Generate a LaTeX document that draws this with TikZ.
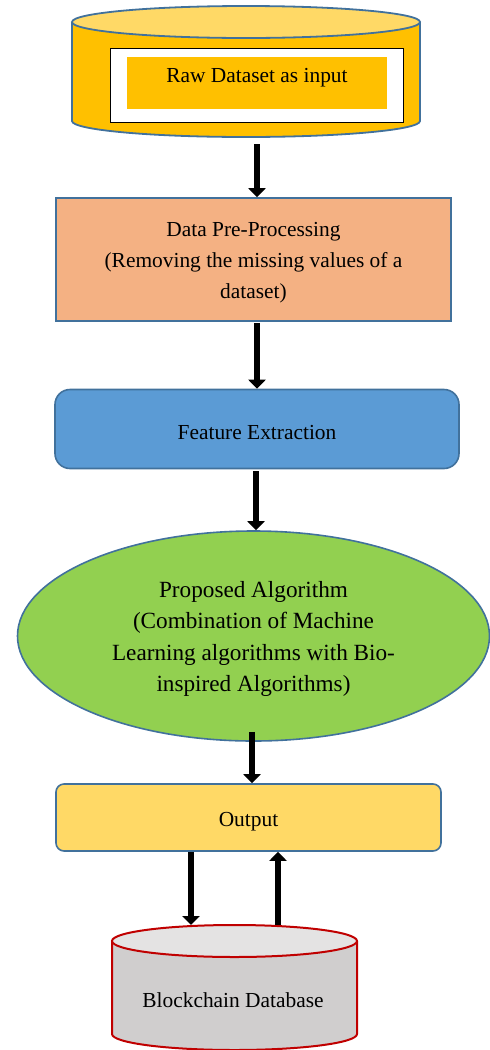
\documentclass[tikz,border=0pt]{standalone}
\usepackage{fontspec}
\setmainfont{Liberation Serif}
\usetikzlibrary{arrows.meta,shapes.geometric}
\definecolor{bord}{HTML}{41719C}
\definecolor{goldbody}{HTML}{FFC000}
\definecolor{goldtop}{HTML}{FFD966}
\definecolor{peach}{HTML}{F4B183}
\definecolor{skyblue}{HTML}{5B9BD5}
\definecolor{leafgreen}{HTML}{92D050}
\definecolor{outyellow}{HTML}{FFD966}
\definecolor{dbbody}{HTML}{D0CECE}
\definecolor{dbtop}{HTML}{E4E3E3}
\definecolor{dbred}{HTML}{C00000}
\tikzset{
  arr/.style={line width=6.8pt,-{Triangle[width=17pt,length=9pt]}},
  txt/.style={font=\fontsize{21.4}{31}\selectfont, align=center, text=black},
  bigtxt/.style={font=\fontsize{23.2}{31.5}\selectfont, align=center, text=black},
  boxstyle/.style={draw=bord, line width=1.6pt, inner sep=0pt},
  ghost/.style={inner sep=0pt, outer sep=0pt, draw=none}
}
\begin{document}
\begin{tikzpicture}[x=1pt,y=1pt]
\useasboundingbox (0,0) rectangle (490,-1050);
% top cylinder
\draw[fill=goldbody, draw=bord, line width=1.8pt] (72,-22) -- (72,-121) arc[start angle=180,end angle=360,x radius=174,y radius=16] -- (420,-22);
\draw[fill=goldtop, draw=bord, line width=1.8pt] (246,-22) ellipse[x radius=174,y radius=16];
\node[ghost, minimum width=348pt, minimum height=134pt] (c1) at (246,-73) {};
\node[draw=black, fill=white, line width=1pt, minimum width=293pt, minimum height=74pt, inner sep=0pt] (win) at (256.5,-85) {};
\node[fill=goldbody, minimum width=260pt, minimum height=52pt, inner sep=0pt] (lab) at (257,-83) {};
\node[txt] (t1) at (257,-78) {Raw Dataset as input};
% box 2
\node[boxstyle, fill=peach, minimum width=395pt, minimum height=123pt] (b2) at (253.5,-259.5) {};
\node[txt] (t2) at (253.5,-263) {Data Pre-Processing\\(Removing the missing values of a\\dataset)};
% box 3
\node[boxstyle, fill=skyblue, rounded corners=15pt, minimum width=404pt, minimum height=79pt] (b3) at (257,-429) {};
\node[txt] (t3) at (257,-433) {Feature Extraction};
% ellipse
\node[ellipse, boxstyle, fill=leafgreen, minimum width=472pt, minimum height=210pt] (e4) at (253.5,-636) {};
\node[bigtxt] (t4) at (253.5,-639) {Proposed Algorithm\\(Combination of Machine\\Learning algorithms with Bio-\\inspired Algorithms)};
% output
\node[boxstyle, fill=outyellow, rounded corners=8pt, minimum width=385pt, minimum height=67pt] (b5) at (248.5,-817.5) {};
\node[txt] (t5) at (248.5,-822) {Output};
% blockchain cylinder
\draw[fill=dbbody, draw=dbred, line width=2pt] (112,-941) -- (112,-1034) arc[start angle=180,end angle=360,x radius=122.5,y radius=16] -- (357,-941);
\draw[fill=dbtop, draw=dbred, line width=2pt] (234.5,-941) ellipse[x radius=122.5,y radius=16];
\node[ghost, minimum width=245pt, minimum height=125pt] (c6) at (234.5,-987.5) {};
\node[txt] (t6) at (233,-1000) {Blockchain Database};
% arrows
\draw[arr] ([xshift=11pt,yshift=-4pt]c1.south) -- ([xshift=11pt]c1.south |- b2.north);
\draw[arr] ([xshift=3.5pt,yshift=-1pt]b2.south) -- ([xshift=3.5pt]b2.south |- b3.north);
\draw[arr] ([xshift=-1pt,yshift=-2pt]b3.south) -- ([xshift=-1pt]b3.south |- e4.north);
\draw[arr] ([xshift=-1.5pt,yshift=10pt]e4.south) -- ([xshift=-1.5pt]e4.south |- b5.north);
\draw[arr] ([xshift=-57.5pt]b5.south) -- ([xshift=-57.5pt]b5.south |- c6.north);
\draw[arr] ([xshift=29.5pt]b5.south |- c6.north) -- ([xshift=29.5pt]b5.south);
\end{tikzpicture}
\end{document}
